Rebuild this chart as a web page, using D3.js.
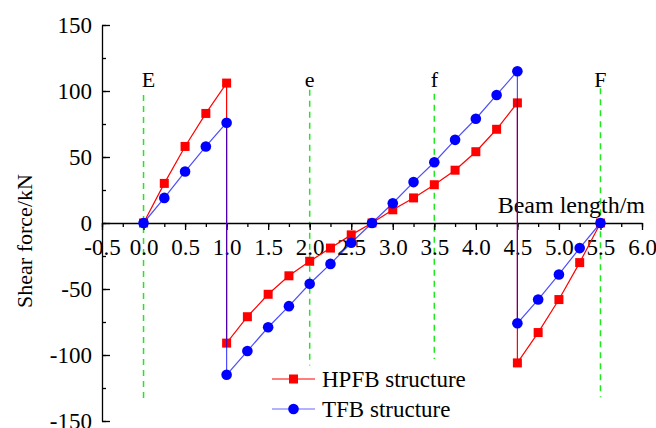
<!DOCTYPE html>
<html>
<head>
<meta charset="utf-8">
<script src="https://cdn.jsdelivr.net/npm/d3@7"></script>
<style>
  body { margin: 0; background: #fff; }
  text { font-family: "Liberation Serif", "Times New Roman", serif; fill: #000; }
</style>
</head>
<body>
<div class="chart"></div>
<script>
// beam positions (m) - the jumps at 1.0 and 4.5 appear twice
var positions = [0, 0.25, 0.5, 0.75, 1.0, 1.0, 1.25, 1.5, 1.75, 2.0, 2.25, 2.5, 2.75,
  3.0, 3.25, 3.5, 3.75, 4.0, 4.25, 4.5, 4.5, 4.75, 5.0, 5.25, 5.5];

var hpfbShear = [0, 30, 58, 83, 106, -91, -71, -54, -40, -29, -19, -9, 0,
  10, 19, 29, 40, 54, 71, 91, -106, -83, -58, -30, 0];

var tfbShear = [0, 19, 39, 58, 76, -115, -97, -79, -63, -46, -31, -15, 0,
  15, 31, 46, 63, 79, 97, 115, -76, -58, -39, -19, 0];

var seriesNames = ["HPFB structure", "TFB structure"];

// section markers
var sectionNames = ["E", "e", "f", "F"];
var sectionPos = [0, 2.0, 3.5, 5.5];
var sectionTop = [97, 101, 98, 102];
var sectionBottom = [-136, -108, -103, -132];

var xTicks = [-0.5, 0, 0.5, 1, 1.5, 2, 2.5, 3, 3.5, 4, 4.5, 5, 5.5, 6];
var yTicks = [-150, -100, -50, 0, 50, 100, 150];

var svgWidth = 656;
var svgHeight = 428;

var svg = d3.select(".chart")
  .append("svg")
  .attr("width", svgWidth)
  .attr("height", svgHeight);

var xScale = d3.scaleLinear()
  .domain([-0.5, 6.0])
  .range([102, 642]);

var yScale = d3.scaleLinear()
  .domain([-150, 150])
  .range([421, 25]);

// green dashed section lines + labels
sectionNames.forEach(function(name, i) {
  svg.append("line")
    .attr("x1", xScale(sectionPos[i]))
    .attr("x2", xScale(sectionPos[i]))
    .attr("y1", yScale(sectionTop[i]))
    .attr("y2", yScale(sectionBottom[i]))
    .attr("stroke", "#1ee81e")
    .attr("stroke-width", 1.5)
    .attr("stroke-dasharray", "6,5");

  svg.append("text")
    .attr("x", xScale(sectionPos[i]) + (i == 0 ? 5 : 0))
    .attr("y", 87)
    .attr("text-anchor", "middle")
    .style("font-size", "22px")
    .text(name);
});

// y axis, ticks pointing in
svg.append("g")
  .attr("transform", "translate(102,0)")
  .call(d3.axisLeft(yScale).tickValues(d3.range(-150, 151, 25)).tickSize(-4).tickFormat(""))
  .call(g => g.select(".domain").remove());

svg.append("g")
  .attr("transform", "translate(102,0)")
  .call(d3.axisLeft(yScale)
    .tickValues(yTicks)
    .tickSizeInner(-8)
    .tickSizeOuter(0)
    .tickPadding(10)
    .tickFormat(d => String(d)))
  .call(g => g.selectAll("text").style("font-size", "23px").attr("font-family", null));

// x axis through zero
svg.append("g")
  .attr("transform", `translate(0, ${yScale(0)})`)
  .call(d3.axisBottom(xScale).tickValues(d3.range(-0.5, 6.01, 0.25)).tickSize(4).tickFormat(""))
  .call(g => g.select(".domain").remove());

svg.append("g")
  .attr("transform", `translate(0, ${yScale(0)})`)
  .call(d3.axisBottom(xScale)
    .tickValues(xTicks)
    .tickSizeInner(7)
    .tickSizeOuter(0)
    .tickPadding(9)
    .tickFormat(d => d.toFixed(1)))
  .call(g => g.selectAll("text").style("font-size", "23px").attr("font-family", null));

svg.selectAll(".domain, .tick line").attr("stroke-width", 1.3);

// axis titles
svg.append("text")
  .attr("transform", "translate(32,241) rotate(-90)")
  .attr("text-anchor", "middle")
  .style("font-size", "22px")
  .text("Shear force/kN");

svg.append("text")
  .attr("x", 645)
  .attr("y", 213)
  .attr("text-anchor", "end")
  .style("font-size", "24px")
  .text("Beam length/m");

// series
var line = d3.line()
  .x(d => xScale(d[0]))
  .y(d => yScale(d[1]));

var hpfbData = positions.map((p, i) => [p, hpfbShear[i]]);
var tfbData = positions.map((p, i) => [p, tfbShear[i]]);

svg.append("path")
  .datum(hpfbData)
  .attr("d", line)
  .attr("fill", "none")
  .attr("stroke", "#ff0000")
  .attr("stroke-width", 1.2);

svg.selectAll(".hpfb")
  .data(hpfbData)
  .enter()
  .append("rect")
  .attr("class", "hpfb")
  .attr("x", d => xScale(d[0]) - 4.5)
  .attr("y", d => yScale(d[1]) - 4.5)
  .attr("width", 9)
  .attr("height", 9)
  .attr("fill", "#ff0000");

svg.append("path")
  .datum(tfbData)
  .attr("d", line)
  .attr("fill", "none")
  .attr("stroke", "#0000ff")
  .attr("stroke-opacity", 0.7)
  .attr("stroke-width", 1.2);

svg.selectAll(".tfb")
  .data(tfbData)
  .enter()
  .append("circle")
  .attr("class", "tfb")
  .attr("cx", d => xScale(d[0]))
  .attr("cy", d => yScale(d[1]))
  .attr("r", 5.3)
  .attr("fill", "#0000ff");

// legend
var legendColors = ["#ff0000", "#0000ff"];
var legendY = [379, 409];

seriesNames.forEach(function(name, i) {
  var lg = svg.append("g").attr("transform", `translate(0, ${legendY[i]})`);
  lg.append("line")
    .attr("x1", 272).attr("x2", 315)
    .attr("stroke", legendColors[i])
    .attr("stroke-opacity", i == 1 ? 0.6 : 1)
    .attr("stroke-width", 1.2);
  if (i == 0) {
    lg.append("rect").attr("x", 289).attr("y", -4.5).attr("width", 9).attr("height", 9).attr("fill", legendColors[i]);
  } else {
    lg.append("circle").attr("cx", 293.5).attr("r", 5.3).attr("fill", legendColors[i]);
  }
  lg.append("text")
    .attr("x", 322)
    .attr("y", 8)
    .style("font-size", "23px")
    .text(name);
});
</script>
</body>
</html>
